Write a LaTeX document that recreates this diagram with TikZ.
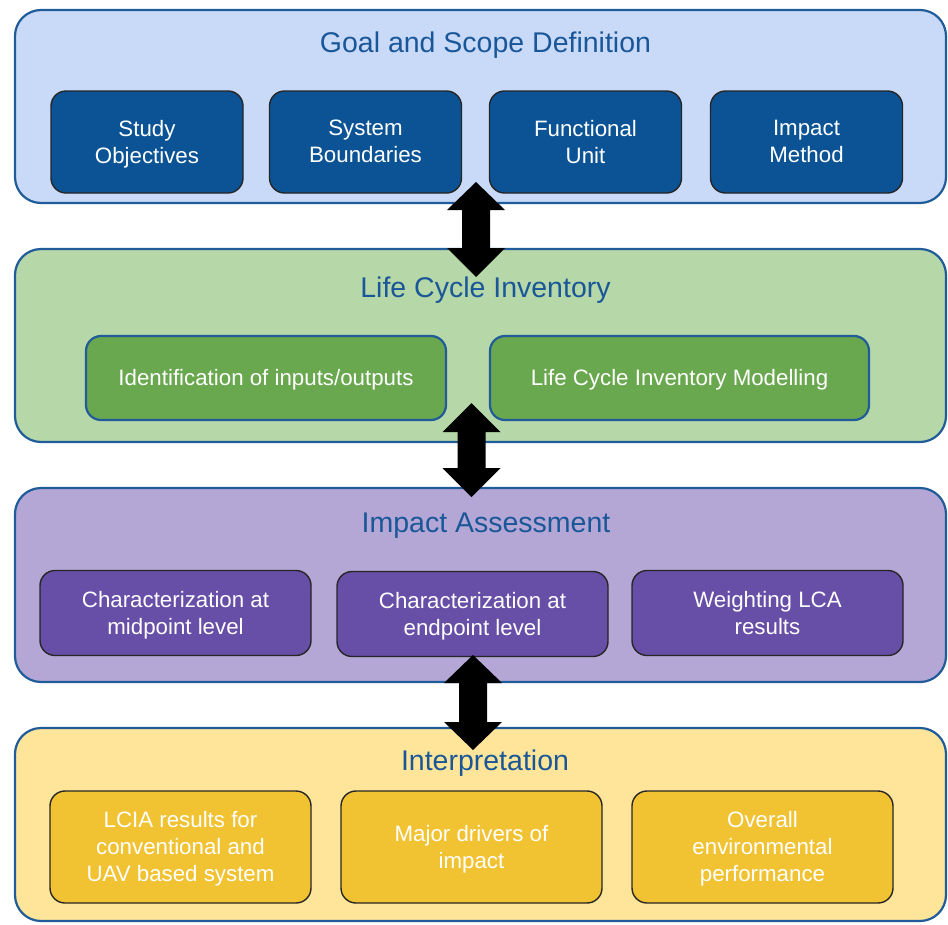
\documentclass[tikz,border=0pt]{standalone}
\usepackage{fontspec}
\setmainfont{Liberation Sans}
\usetikzlibrary{positioning}

\definecolor{rimblue}{HTML}{1F5C99}
\definecolor{titleblue}{HTML}{1A5798}
\definecolor{goalpanel}{HTML}{C9DAF8}
\definecolor{goalbox}{HTML}{0B5394}
\definecolor{lcipanel}{HTML}{B6D7A8}
\definecolor{lcibox}{HTML}{6AA84F}
\definecolor{iapanel}{HTML}{B4A7D6}
\definecolor{iabox}{HTML}{674EA7}
\definecolor{interppanel}{HTML}{FFE599}
\definecolor{interpbox}{HTML}{F1C232}

\tikzset{
  panel/.style={draw=rimblue, line width=2.2pt, rounded corners=26pt,
    minimum width=931pt, inner sep=0pt},
  paneltitle/.style={text=titleblue, font=\fontsize{28.5}{33}\selectfont, inner sep=0pt},
  stagebox/.style={rounded corners=15pt, inner sep=2pt, align=center, text=white,
    font=\fontsize{22.3}{27}\selectfont, line width=1.4pt, draw=black!85,
    text depth=1pt},
  goalitem/.style={stagebox, fill=goalbox, minimum width=192pt, minimum height=102pt},
  lciitem/.style={stagebox, fill=lcibox, draw=rimblue, line width=2.2pt, minimum height=84pt},
  iaitem/.style={stagebox, fill=iabox, minimum width=271pt, minimum height=85pt},
  interpitem/.style={stagebox, fill=interpbox, minimum width=261pt, minimum height=112pt},
}

% two-headed block arrow: centre x, top tip, top head base, bottom head base, bottom tip
\newcommand\lcaflow[6]{%
  \coordinate (#6-top) at (#1,#2);
  \coordinate (#6-bot) at (#1,#5);
  \fill[black] (#6-top) -- (#1+29,#3) -- (#1+14,#3) -- (#1+14,#4) -- (#1+29,#4)
    -- (#6-bot) -- (#1-29,#4) -- (#1-14,#4) -- (#1-14,#3) -- (#1-29,#3) -- cycle;}

\begin{document}
\begin{tikzpicture}[x=1pt,y=-1pt]
\useasboundingbox (0,0) rectangle (948,924);

% stage panels
\node[panel, fill=goalpanel,   minimum height=193pt] (goal)   at (480.5,106.5) {};
\node[panel, fill=lcipanel,    minimum height=193pt] (lci)    at (480.5,345.5) {};
\node[panel, fill=iapanel,     minimum height=194pt] (ia)     at (480.5,585)   {};
\node[panel, fill=interppanel, minimum height=193pt] (interp) at (480.5,824.5) {};

% panel titles
\node[paneltitle] (goal-t)   at (485.5,45)  {Goal and Scope Definition};
\node[paneltitle] (lci-t)    at (485.5,290) {Life Cycle Inventory};
\node[paneltitle] (ia-t)     at (486,526)   {Impact Assessment};
\node[paneltitle] (interp-t) at (485,763)   {Interpretation};

% goal and scope items
\node[goalitem] (g1) at (147,142)   {Study\\Objectives};
\node[goalitem] (g2) at (365.5,142) {System\\Boundaries};
\node[goalitem] (g3) at (585.5,142) {Functional\\Unit};
\node[goalitem] (g4) at (806.5,142) {Impact\\Method};

% inventory items
\node[lciitem, minimum width=360pt] (l1) at (266,378)   {Identification of inputs/outputs};
\node[lciitem, minimum width=379pt] (l2) at (679.5,378) {Life Cycle Inventory Modelling};

% impact assessment items
\node[iaitem] (i1) at (175.5,613)   {Characterization at\\midpoint level};
\node[iaitem] (i2) at (472.5,614)   {Characterization at\\endpoint level};
\node[iaitem] (i3) at (767.5,613)   {Weighting LCA\\results};

% interpretation items
\node[interpitem] (r1) at (180.5,847) {LCIA results for\\conventional and\\UAV based system};
\node[interpitem] (r2) at (471.5,847) {Major drivers of\\impact};
\node[interpitem] (r3) at (762.5,847) {Overall\\environmental\\performance};

% iterative links between stages
\lcaflow{476}{182}{210}{248}{277}{a1}
\lcaflow{471.5}{403}{432}{468}{497}{a2}
\lcaflow{473}{655}{683}{722}{750}{a3}
\end{tikzpicture}
\end{document}
